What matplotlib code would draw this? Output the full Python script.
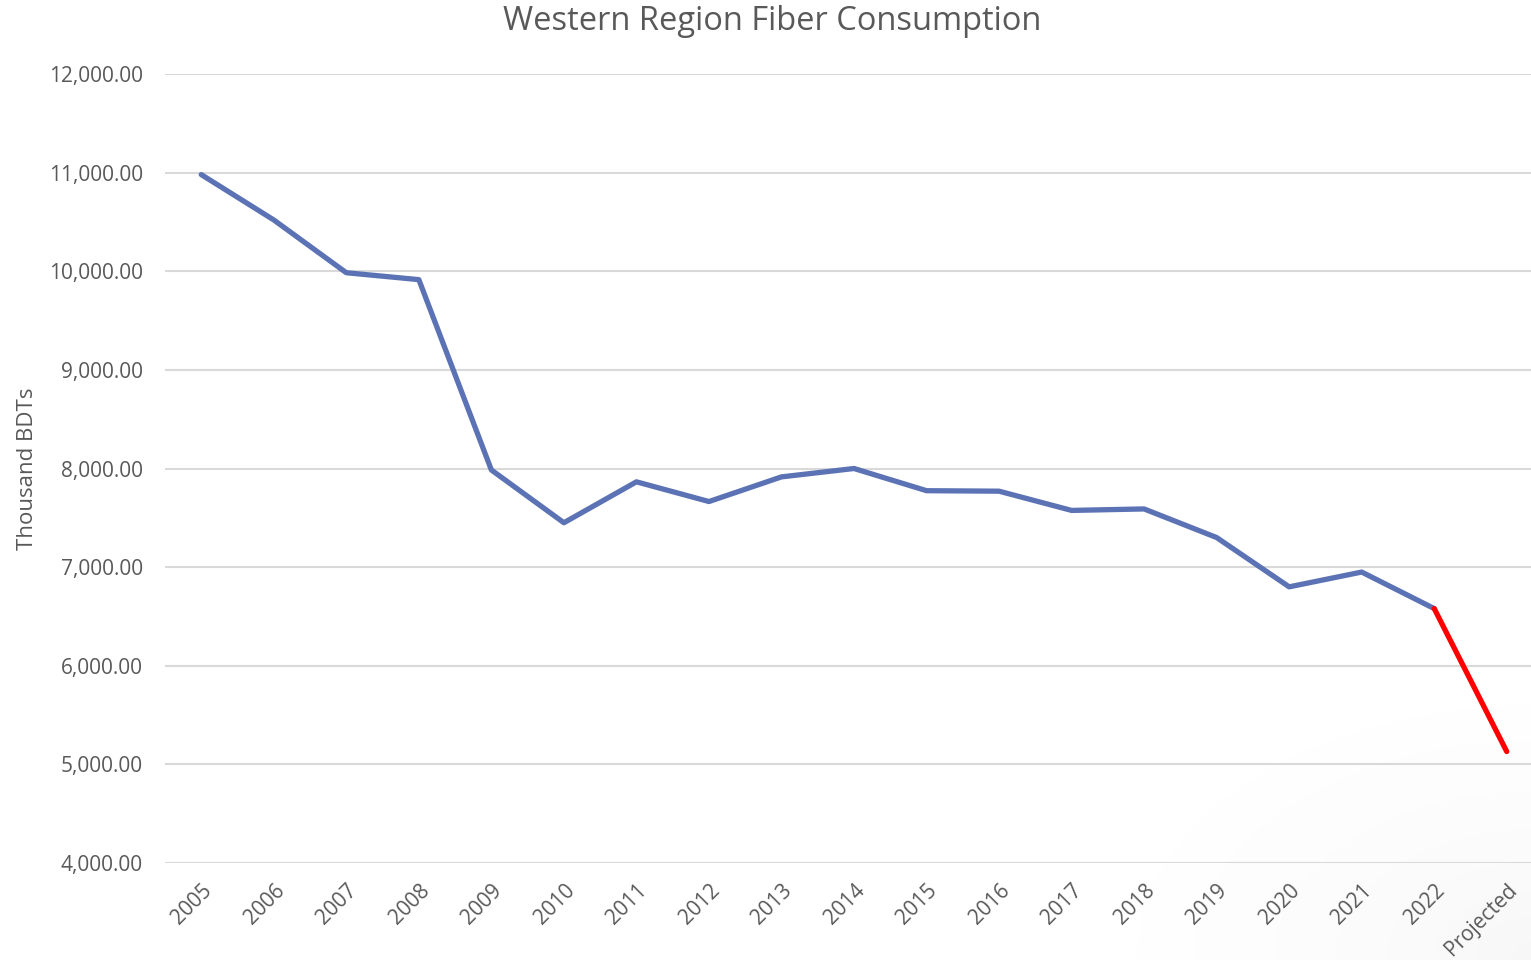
import matplotlib
matplotlib.use("Agg")
import matplotlib.pyplot as plt
import numpy as np
from matplotlib.ticker import FuncFormatter, MultipleLocator

categories = ["2005", "2006", "2007", "2008", "2009", "2010", "2011", "2012", "2013",
              "2014", "2015", "2016", "2017", "2018", "2019", "2020", "2021", "2022", "Projected"]
values = [10980, 10520, 9985, 9915, 7985, 7450, 7865, 7665, 7915,
          8000, 7775, 7770, 7575, 7590, 7300, 6800, 6950, 6580, 5130]
n_hist = 18  # 2005..2022 historical points

plt.rcParams['font.family'] = ['Open Sans', 'DejaVu Sans']
gray = "#595959"

fig = plt.figure(figsize=(15.31, 9.6), dpi=100)

# faint corner shading (bottom-right), purely decorative background
bg = fig.add_axes([0, 0, 1, 1], zorder=-10)
bg.axis("off")
yy, xx = np.mgrid[0:96, 0:153]
d = np.sqrt(((153 - xx) / 153) ** 2 + ((yy) / 96) ** 2)
shade = np.clip(1 - d / 0.35, 0, 1) ** 2 * 0.06
img = np.ones((96, 153, 4))
img[..., :3] = 0.5
img[..., 3] = shade
bg.imshow(img, extent=[0, 1, 0, 1], aspect="auto", origin="lower", interpolation="bilinear")
bg.set_xlim(0, 1); bg.set_ylim(0, 1)

ax = fig.add_axes([165/1531, (960-863)/960, (1543-165)/1531, (863-74)/960])
ax.patch.set_alpha(0)

x = list(range(len(categories)))
ax.plot(x[:n_hist], values[:n_hist], color="#5B72B5", lw=3.8, solid_joinstyle="round", solid_capstyle="round", zorder=3)
ax.plot(x[n_hist-1:], values[n_hist-1:], color="#FF0000", lw=3.8, solid_capstyle="round", zorder=3)

ax.set_xlim(-0.5, len(categories) - 0.5)
ax.set_ylim(4000, 12000)
ax.yaxis.set_major_locator(MultipleLocator(1000))
ax.yaxis.set_major_formatter(FuncFormatter(lambda v, p: f"{v:,.2f}"))
ax.grid(axis="y", color="#D9D9D9", lw=1.5)
ax.set_axisbelow(True)
for s in ax.spines.values():
    s.set_visible(False)
ax.tick_params(axis="both", length=0, colors=gray, labelsize=15)
ax.tick_params(axis="y", pad=16)
ax.set_xticks(x)
ax.set_xticklabels(categories, rotation=45, ha="right", rotation_mode="anchor")
ax.tick_params(axis="x", pad=12)

ax.set_ylabel("Thousand BDTs", color=gray, fontsize=16, labelpad=8)
fig.text(772/1531, 1 - 22/960, "Western Region Fiber Consumption", color=gray, fontsize=23.5,
         ha="center", va="center")

fig.savefig("out.png", dpi=100)
